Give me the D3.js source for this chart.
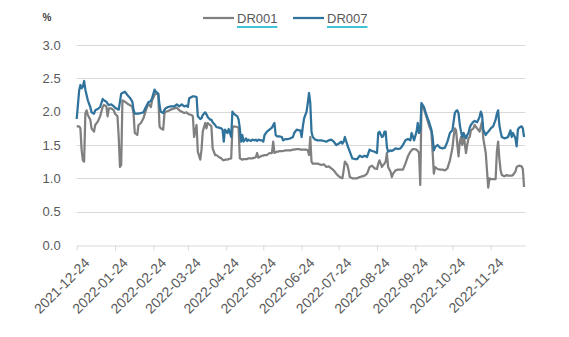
<!DOCTYPE html>
<html>
<head>
<meta charset="utf-8">
<script src="https://cdn.jsdelivr.net/npm/d3@7/dist/d3.min.js"></script>
<style>
  html, body { margin: 0; padding: 0; background: #ffffff; }
  svg { display: block; font-family: "Liberation Sans", Arial, sans-serif; }
</style>
</head>
<body>
<svg id="chart" width="569" height="337"></svg>
<script>
// Daily interbank repo fixing rates (%), Dec 2021 – Dec 2022
const dates = [
  "2021-12-24","2021-12-26","2021-12-27","2021-12-28","2021-12-29","2021-12-30","2021-12-31",
  "2022-01-01","2022-01-02","2022-01-04","2022-01-05","2022-01-07","2022-01-08","2022-01-10","2022-01-12","2022-01-14","2022-01-15","2022-01-17","2022-01-18","2022-01-19","2022-01-21","2022-01-23","2022-01-24","2022-01-26","2022-01-27","2022-01-28","2022-01-29","2022-01-30",
  "2022-02-01","2022-02-03","2022-02-05","2022-02-07","2022-02-08","2022-02-09","2022-02-11","2022-02-12","2022-02-14","2022-02-16","2022-02-18","2022-02-20","2022-02-22","2022-02-23","2022-02-25","2022-02-26","2022-02-28",
  "2022-03-01","2022-03-02","2022-03-04","2022-03-05","2022-03-06","2022-03-08","2022-03-10","2022-03-13","2022-03-15","2022-03-17","2022-03-19","2022-03-21","2022-03-23","2022-03-24","2022-03-25","2022-03-27","2022-03-28","2022-03-29","2022-03-31",
  "2022-04-01","2022-04-03","2022-04-04","2022-04-05","2022-04-07","2022-04-08","2022-04-09","2022-04-11","2022-04-12","2022-04-13","2022-04-15","2022-04-16","2022-04-18","2022-04-20","2022-04-21","2022-04-22","2022-04-23","2022-04-25","2022-04-26","2022-04-28","2022-04-29","2022-04-30",
  "2022-05-03","2022-05-04","2022-05-05","2022-05-06","2022-05-07","2022-05-08","2022-05-10","2022-05-11","2022-05-12","2022-05-14","2022-05-15","2022-05-17","2022-05-18","2022-05-19","2022-05-20","2022-05-22","2022-05-23","2022-05-24","2022-05-25","2022-05-27","2022-05-29","2022-05-31",
  "2022-06-01","2022-06-02","2022-06-03","2022-06-04","2022-06-05","2022-06-06","2022-06-08","2022-06-09","2022-06-11","2022-06-13","2022-06-15","2022-06-17","2022-06-18","2022-06-20","2022-06-22","2022-06-23","2022-06-24","2022-06-25","2022-06-26","2022-06-28","2022-06-29","2022-06-30",
  "2022-07-01","2022-07-02","2022-07-03","2022-07-05","2022-07-07","2022-07-10","2022-07-12","2022-07-14","2022-07-16","2022-07-18","2022-07-20","2022-07-22","2022-07-24","2022-07-26","2022-07-27","2022-07-28","2022-07-29","2022-07-31",
  "2022-08-01","2022-08-02","2022-08-04","2022-08-06","2022-08-08","2022-08-10","2022-08-12","2022-08-14","2022-08-16","2022-08-18","2022-08-20","2022-08-22","2022-08-24","2022-08-25","2022-08-26","2022-08-28","2022-08-29","2022-08-30","2022-08-31",
  "2022-09-01","2022-09-02","2022-09-04","2022-09-05","2022-09-06","2022-09-08","2022-09-10","2022-09-12","2022-09-14","2022-09-16","2022-09-18","2022-09-20","2022-09-21","2022-09-22","2022-09-23","2022-09-25","2022-09-26","2022-09-27","2022-09-28","2022-09-29",
  "2022-10-01","2022-10-03","2022-10-05","2022-10-07","2022-10-08","2022-10-09","2022-10-10","2022-10-12","2022-10-14","2022-10-16","2022-10-18","2022-10-20","2022-10-22","2022-10-24","2022-10-25","2022-10-26","2022-10-27","2022-10-28","2022-10-29","2022-10-30","2022-10-31",
  "2022-11-01","2022-11-02","2022-11-04","2022-11-05","2022-11-06","2022-11-07","2022-11-08","2022-11-10","2022-11-11","2022-11-13","2022-11-15","2022-11-16","2022-11-17","2022-11-18","2022-11-20","2022-11-21","2022-11-22","2022-11-23","2022-11-24","2022-11-26","2022-11-28","2022-11-29","2022-11-30",
  "2022-12-01","2022-12-02","2022-12-03","2022-12-05","2022-12-07","2022-12-08","2022-12-10","2022-12-11","2022-12-12","2022-12-14","2022-12-15","2022-12-16","2022-12-17","2022-12-19","2022-12-20","2022-12-21"
];

const dr001 = [
  1.78,1.78,1.75,1.42,1.27,1.25,1.97,
  2.02,1.95,1.88,1.75,1.70,1.80,1.85,1.93,2.07,2.10,2.08,1.93,2.05,2.05,2.02,1.97,1.93,1.62,1.17,1.20,2.17,
  2.15,2.12,2.10,2.07,1.97,1.68,1.65,1.80,1.83,1.90,2.02,2.12,2.07,2.17,2.25,2.27,2.26,
  1.78,1.75,1.73,1.97,2.00,2.01,2.03,2.05,2.06,2.02,2.00,1.98,1.99,1.97,1.96,1.95,1.93,1.62,1.80,
  1.40,1.28,1.43,1.70,1.83,1.75,1.83,1.80,1.78,1.45,1.35,1.35,1.32,1.30,1.28,1.27,1.28,1.28,1.29,1.30,1.75,1.78,
  1.77,1.76,1.30,1.29,1.28,1.29,1.29,1.29,1.30,1.30,1.30,1.31,1.32,1.38,1.31,1.33,1.34,1.34,1.35,1.35,1.38,1.38,
  1.55,1.38,1.39,1.40,1.40,1.41,1.41,1.41,1.42,1.42,1.42,1.43,1.43,1.44,1.44,1.43,1.43,1.43,1.43,1.43,1.42,1.35,
  1.62,1.25,1.22,1.22,1.22,1.20,1.21,1.17,1.18,1.15,1.12,1.07,1.03,1.01,1.00,1.12,1.25,1.20,
  1.12,1.02,1.00,1.00,1.00,1.02,1.03,1.04,1.07,1.17,1.19,1.15,1.14,1.22,1.27,1.17,1.20,1.22,1.25,
  1.38,1.17,1.10,1.02,1.07,1.12,1.13,1.13,1.13,1.22,1.33,1.40,1.42,1.44,1.44,1.43,1.41,1.38,0.90,2.10,
  2.04,1.92,1.80,1.70,1.40,1.07,1.17,1.14,1.13,1.13,1.12,1.15,1.27,1.45,1.62,1.75,1.72,1.50,1.33,1.55,1.62,
  1.50,1.68,1.38,1.50,1.60,1.62,1.72,1.75,1.80,1.75,1.70,1.78,1.85,1.60,1.38,1.12,0.86,1.00,0.99,0.99,0.99,1.40,1.55,
  1.30,1.12,1.05,1.03,1.05,1.04,1.04,1.04,1.05,1.10,1.17,1.18,1.19,1.18,1.14,0.87
];

const dr007 = [
  1.89,2.32,2.40,2.35,2.38,2.46,2.33,
  2.25,2.17,2.07,1.99,1.97,2.02,2.04,2.07,2.19,2.17,2.15,2.12,2.10,2.11,2.08,2.06,2.04,2.03,2.15,2.27,2.28,
  2.30,2.25,2.21,2.15,2.03,1.97,1.97,1.97,1.98,1.99,2.07,2.14,2.16,2.20,2.33,2.30,2.27,
  2.10,2.00,1.98,2.03,2.05,2.07,2.08,2.08,2.11,2.08,2.11,2.08,2.09,2.07,2.20,2.22,2.23,2.23,2.22,
  1.93,1.89,1.90,1.95,1.99,1.96,1.92,1.88,1.88,1.84,1.80,1.77,1.76,1.75,1.73,1.55,1.73,1.68,1.74,1.62,2.00,1.97,
  1.93,1.88,1.75,1.55,1.65,1.55,1.60,1.56,1.58,1.56,1.58,1.57,1.58,1.56,1.58,1.57,1.57,1.55,1.65,1.70,1.73,1.76,
  1.80,1.83,1.65,1.63,1.63,1.63,1.62,1.57,1.59,1.59,1.60,1.62,1.68,1.73,1.72,1.72,1.62,1.78,1.90,2.00,2.13,2.28,
  2.13,1.70,1.62,1.58,1.57,1.57,1.56,1.55,1.57,1.58,1.55,1.50,1.52,1.55,1.52,1.55,1.62,1.50,
  1.45,1.40,1.30,1.29,1.29,1.34,1.32,1.34,1.32,1.43,1.41,1.40,1.38,1.68,1.70,1.62,1.63,1.70,1.70,
  1.47,1.40,1.42,1.41,1.42,1.45,1.44,1.45,1.50,1.57,1.59,1.57,1.68,1.63,1.57,1.70,1.83,1.68,1.73,2.13,
  2.07,1.95,1.85,1.73,1.62,1.42,1.47,1.50,1.46,1.45,1.46,1.55,1.68,1.72,1.85,1.98,2.01,2.02,1.97,1.80,1.70,
  1.62,1.68,1.60,1.65,1.68,1.76,1.80,1.85,1.86,1.84,1.92,2.00,1.95,1.73,1.65,1.68,1.70,1.72,1.75,1.78,1.88,1.97,2.02,
  1.80,1.70,1.62,1.60,1.61,1.62,1.72,1.62,1.68,1.60,1.48,1.73,1.76,1.78,1.75,1.62
];

const seriesNames = ["DR001", "DR007"];
const seriesColors = ["#808080", "#2f729c"];
const yTickValues = [0, 0.5, 1.0, 1.5, 2.0, 2.5, 3.0];
const xTickLabels = [
  "2021-12-24","2022-01-24","2022-02-24","2022-03-24","2022-04-24","2022-05-24",
  "2022-06-24","2022-07-24","2022-08-24","2022-09-24","2022-10-24","2022-11-24"
];
const axisStart = "2021-12-24";
const axisEnd = "2022-12-22";
const yUnit = "%";

const parse = d3.timeParse("%Y-%m-%d");
const fmt = d3.timeFormat("%Y-%m-%d");

const svg = d3.select("#chart");
const plot = { left: 76.7, right: 525.3, top: 45, bottom: 245 };

const x = d3.scaleTime()
  .domain([parse(axisStart), parse(axisEnd)])
  .range([plot.left, plot.right]);

const y = d3.scaleLinear()
  .domain([0, 3])
  .range([plot.bottom, plot.top]);

const textColor = "#595959";
const gridColor = "#d9d9d9";

// horizontal gridlines
svg.append("g")
  .selectAll("line")
  .data(yTickValues.filter(v => v > 0))
  .join("line")
  .attr("x1", plot.left)
  .attr("x2", plot.right)
  .attr("y1", d => Math.round(y(d)) + 0.5)
  .attr("y2", d => Math.round(y(d)) + 0.5)
  .attr("stroke", gridColor)
  .attr("stroke-width", 1);

// y axis labels (no axis line)
const yAxis = d3.axisLeft(y)
  .tickValues(yTickValues)
  .tickFormat(d3.format(".1f"))
  .tickSize(0)
  .tickPadding(0);

const gy = svg.append("g")
  .attr("transform", `translate(${plot.left - 16},0)`)
  .call(yAxis);
gy.select(".domain").remove();
gy.selectAll("text")
  .attr("fill", textColor)
  .attr("font-size", 13)
  .attr("font-family", "Liberation Sans, Arial, sans-serif");

// unit label
svg.append("text")
  .attr("x", 47)
  .attr("y", 21)
  .attr("text-anchor", "middle")
  .attr("font-size", 10)
  .attr("font-weight", "bold")
  .attr("fill", "#404040")
  .text(yUnit);

// x axis at zero
const xAxis = d3.axisBottom(x)
  .tickValues(xTickLabels.map(parse))
  .tickFormat(fmt)
  .tickSize(5)
  .tickSizeOuter(0)
  .tickPadding(4);

const gx = svg.append("g")
  .attr("transform", `translate(0,${Math.round(y(0)) + 0.5})`)
  .call(xAxis);
gx.select(".domain").attr("stroke", gridColor);
gx.selectAll(".tick line").attr("stroke", gridColor);
gx.selectAll("text")
  .attr("fill", textColor)
  .attr("font-size", 14)
  .attr("font-family", "Liberation Sans, Arial, sans-serif")
  .attr("text-anchor", "end")
  .attr("dy", "0.3em")
  .attr("transform", "translate(4,9) rotate(-45)");

// series lines
const rows = dates.map((d, i) => ({ date: parse(d), v: [dr001[i], dr007[i]] }));

seriesNames.forEach((name, s) => {
  const line = d3.line()
    .x(d => x(d.date))
    .y(d => y(d.v[s]))
    .curve(d3.curveLinear);
  svg.append("path")
    .datum(rows)
    .attr("fill", "none")
    .attr("stroke", seriesColors[s])
    .attr("stroke-width", 2.25)
    .attr("stroke-linejoin", "round")
    .attr("d", line);
});

// legend
const legendX = [203, 293];
seriesNames.forEach((name, s) => {
  const g = svg.append("g").attr("transform", `translate(${legendX[s]},18)`);
  g.append("line")
    .attr("x1", 0).attr("x2", 31)
    .attr("y1", 0).attr("y2", 0)
    .attr("stroke", seriesColors[s])
    .attr("stroke-width", 2.25);
  const t = g.append("text")
    .attr("x", 34)
    .attr("y", 5)
    .attr("font-size", 13)
    .attr("fill", textColor)
    .text(name);
  const w = t.node().getComputedTextLength();
  g.append("line")
    .attr("x1", 34).attr("x2", 34 + w)
    .attr("y1", 9).attr("y2", 9)
    .attr("stroke", "#00b0c8")
    .attr("stroke-width", 1.5);
});
</script>
</body>
</html>
